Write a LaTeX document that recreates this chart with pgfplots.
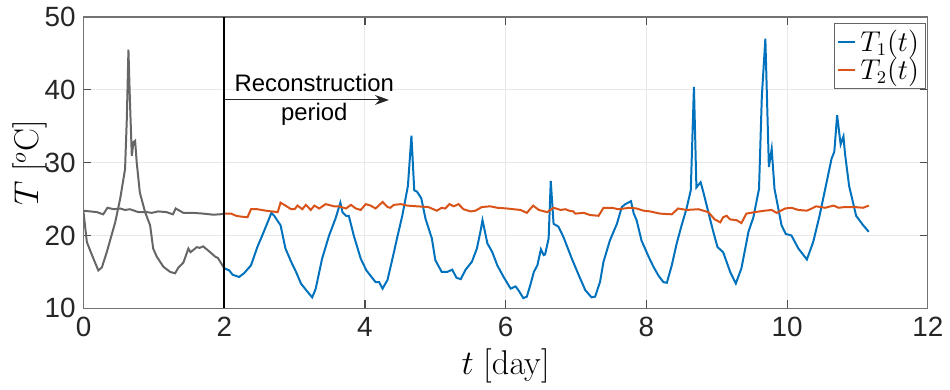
\documentclass[border=0pt]{standalone}
\usepackage[no-math]{fontspec}
\setmainfont{Liberation Sans}
\usepackage{pgfplots}
\usetikzlibrary{arrows.meta}
\pgfplotsset{compat=1.18}
\definecolor{mblue}{rgb}{0,0.447,0.741}
\definecolor{morange}{rgb}{0.85,0.325,0.098}
\definecolor{mgray}{rgb}{0.4,0.4,0.4}
\begin{document}
\begin{tikzpicture}
\begin{axis}[
 scale only axis, width=424.5pt, height=146.5pt,
 xmin=0, xmax=12, ymin=10, ymax=50,
 xtick={0,2,...,12}, ytick={10,20,...,50},
 grid=major, major grid style={draw=black!9, line width=0.5pt},
 axis line style={draw=black!55, line width=0.6pt},
 tick align=inside, major tick length=4pt,
 tick style={draw=black!70, line width=0.6pt},
 /pgf/number format/assume math mode=true,
 tick label style={font=\fontsize{14}{16}\selectfont, text=black!85},
 xticklabel style={yshift=-1pt},
 yticklabel style={xshift=-0.5pt},
 xlabel={$t\;[\mathrm{day}]$}, ylabel={$T\ [^o\mathrm{C}]$},
 label style={font=\fontsize{16}{18}\selectfont},
 xlabel style={at={(axis description cs:0.5,-0.198)}, anchor=center},
 ylabel style={at={(axis description cs:-0.064,0.5)}, anchor=center},
 legend style={at={(rel axis cs:0.997,0.978)}, anchor=north east, draw=black!60,
   font=\fontsize{13.5}{15}\selectfont, inner sep=1pt, row sep=-2pt, cells={anchor=west}},
 legend image code/.code={\draw[#1] (0pt,0pt) -- (9pt,0pt);},
 legend cell align=left,
]
\addplot[mblue, line width=1pt] coordinates {
(2.0,15.5)(2.07,15.2)(2.12,14.6)(2.21,14.3)(2.28,14.8)(2.38,15.9)(2.47,18.4)(2.57,20.7)(2.67,23.1)(2.71,22.7)(2.80,21.4)(2.87,18.2)(2.95,16.4)(3.02,15.0)(3.09,13.4)(3.18,12.3)(3.25,11.5)(3.30,12.7)(3.39,16.8)(3.49,20.0)(3.58,22.3)(3.65,24.5)(3.68,23.2)(3.73,22.7)(3.77,22.7)(3.84,20.0)(3.94,16.8)(4.02,15.2)(4.15,13.6)(4.20,13.6)(4.25,12.7)(4.32,13.9)(4.39,16.8)(4.46,19.8)(4.53,22.7)(4.61,26.8)(4.66,33.7)(4.70,26.2)(4.74,26.0)(4.80,25.1)(4.86,22.3)(4.95,19.6)(5.00,16.6)(5.09,15.0)(5.17,15.0)(5.24,15.3)(5.30,14.2)(5.36,14.0)(5.43,15.3)(5.52,16.4)(5.59,18.2)(5.64,20.5)(5.67,22.1)(5.74,18.9)(5.81,17.7)(5.88,15.9)(5.97,14.3)(6.07,12.7)(6.14,13.0)(6.18,12.5)(6.25,11.4)(6.30,11.6)(6.35,13.2)(6.40,15.0)(6.45,15.9)(6.50,18.1)(6.54,17.3)(6.56,17.4)(6.61,19.6)(6.64,27.5)(6.68,21.6)(6.75,21.2)(6.82,19.8)(6.94,16.8)(7.04,14.5)(7.13,12.5)(7.22,11.5)(7.27,11.6)(7.34,13.6)(7.39,16.4)(7.48,19.3)(7.58,21.6)(7.65,23.9)(7.70,24.3)(7.78,24.7)(7.82,23.0)(7.86,22.1)(7.93,19.3)(8.03,17.1)(8.10,15.7)(8.17,14.5)(8.24,13.6)(8.29,13.5)(8.36,15.9)(8.43,18.9)(8.50,21.4)(8.57,23.7)(8.63,26.2)(8.675,40.4)(8.71,26.6)(8.77,27.3)(8.81,25.9)(8.88,23.2)(8.95,20.5)(9.01,18.4)(9.09,17.7)(9.19,15.0)(9.27,13.4)(9.35,15.5)(9.45,20.5)(9.52,22.5)(9.60,26.4)(9.64,39.1)(9.69,47.0)(9.74,29.4)(9.78,31.9)(9.82,26.4)(9.92,21.4)(9.98,20.2)(10.06,20.0)(10.16,18.2)(10.28,16.7)(10.37,19.1)(10.46,22.7)(10.53,25.9)(10.63,30.5)(10.67,31.5)(10.71,36.5)(10.76,32.5)(10.80,33.6)(10.82,31.4)(10.88,26.8)(10.98,22.7)(11.08,21.4)(11.16,20.5)
};
\addlegendentry{$T_1(t)$}
\addplot[morange, line width=1pt] coordinates {
(2.0,23.0)(2.095,23.0)(2.17,22.7)(2.23,22.6)(2.33,22.5)(2.38,23.6)(2.47,23.6)(2.59,23.4)(2.76,23.2)(2.80,24.5)(2.87,24.1)(2.95,23.6)(3.00,23.6)(3.04,24.1)(3.11,23.6)(3.16,24.2)(3.23,23.5)(3.28,24.1)(3.35,23.7)(3.44,24.3)(3.56,24.0)(3.63,24.0)(3.73,23.7)(3.80,24.2)(3.87,23.7)(3.94,23.5)(4.01,24.3)(4.08,24.1)(4.15,23.7)(4.25,24.6)(4.32,23.9)(4.36,23.8)(4.41,24.2)(4.51,24.3)(4.60,24.1)(4.74,24.0)(4.90,23.9)(5.02,23.4)(5.09,23.8)(5.14,23.7)(5.20,24.3)(5.26,24.0)(5.33,24.3)(5.40,23.6)(5.50,23.3)(5.57,23.4)(5.66,23.9)(5.78,24.0)(5.88,23.8)(6.02,23.7)(6.11,23.6)(6.21,23.5)(6.30,23.1)(6.39,24.1)(6.47,23.5)(6.59,23.2)(6.68,23.8)(6.78,23.5)(6.85,23.6)(6.90,23.4)(6.96,23.3)(6.99,23.0)(7.11,23.1)(7.20,22.8)(7.32,22.7)(7.39,23.8)(7.51,23.8)(7.60,23.6)(7.68,23.7)(7.77,23.8)(7.86,23.7)(7.96,23.4)(8.05,23.3)(8.19,23.0)(8.36,22.9)(8.45,23.7)(8.57,23.5)(8.74,23.6)(8.88,23.2)(8.97,22.2)(9.05,21.8)(9.09,22.5)(9.14,22.7)(9.19,22.2)(9.28,22.1)(9.35,21.7)(9.42,23.0)(9.54,23.2)(9.68,23.4)(9.78,23.5)(9.85,23.1)(9.97,23.7)(10.06,23.8)(10.16,23.5)(10.28,23.4)(10.35,23.7)(10.41,24.0)(10.54,23.8)(10.66,24.1)(10.73,23.8)(10.82,23.9)(10.96,23.9)(11.08,23.8)(11.16,24.1)
};
\addlegendentry{$T_2(t)$}
\addplot[mgray, line width=1pt, forget plot] coordinates {
(0,23.2)(0.047,19.1)(0.12,17.3)(0.21,15.2)(0.26,15.6)(0.33,17.7)(0.45,21.8)(0.52,25.0)(0.59,29.1)(0.615,36)(0.638,45.5)(0.66,38.3)(0.686,30.9)(0.709,32.8)(0.733,33.0)(0.756,30.0)(0.80,25.9)(0.875,23.2)(0.946,21.4)(0.99,18.2)(1.04,17.1)(1.135,15.7)(1.23,15.0)(1.30,14.8)(1.35,15.6)(1.42,16.3)(1.49,18.2)(1.52,17.7)(1.61,18.4)(1.65,18.3)(1.70,18.5)(1.80,17.7)(1.87,17.1)(1.91,16.9)(2.0,15.5)
};
\addplot[mgray, line width=1pt, forget plot] coordinates {
(0,23.4)(0.095,23.3)(0.19,23.2)(0.28,22.9)(0.34,23.8)(0.43,23.6)(0.52,23.7)(0.59,23.5)(0.66,23.6)(0.78,23.2)(0.90,23.2)(0.97,23.1)(1.06,23.3)(1.18,23.2)(1.27,22.9)(1.31,23.7)(1.42,23.1)(1.56,23.1)(1.70,23.0)(1.84,22.85)(1.94,22.9)(2.0,23.0)
};
\addplot[black, line width=0.8pt, forget plot] coordinates {(2,10)(2,50)};
\draw[-{Stealth[length=7pt,width=5pt]}, line width=0.5pt, black!85] (axis cs:2,38.6) -- (axis cs:4.34,38.6);
\node[font=\fontsize{12}{14}\selectfont, inner sep=0pt] at (axis cs:3.28,41.0) {Reconstruction};
\node[font=\fontsize{12}{14}\selectfont, inner sep=0pt] at (axis cs:3.28,36.6) {period};
\end{axis}
\path ([xshift=-42pt,yshift=-38.5pt]current axis.south west) rectangle ([xshift=8.5pt,yshift=8.5pt]current axis.north east);
\end{tikzpicture}
\end{document}
